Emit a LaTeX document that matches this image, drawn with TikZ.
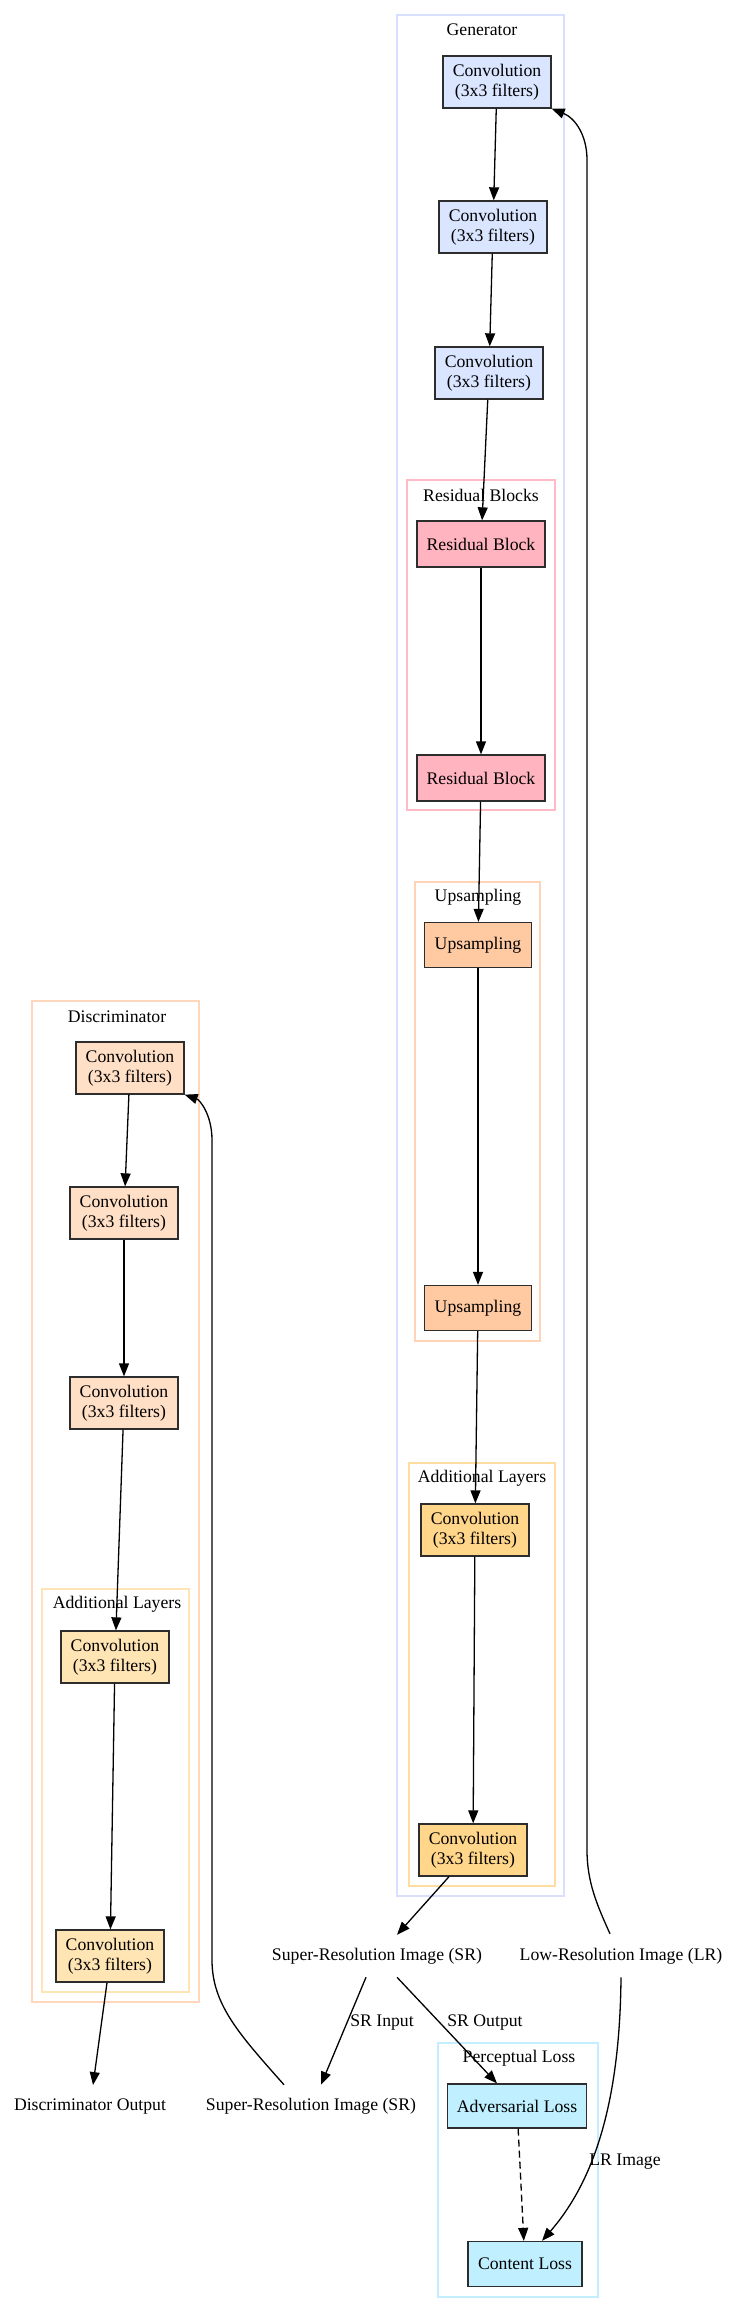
\documentclass[tikz,border=0pt]{standalone}
\usepackage{fontspec}
\setmainfont{Liberation Serif}
\usetikzlibrary{arrows.meta}
\definecolor{genborder}{RGB}{215,224,255}
\definecolor{gconvfill}{RGB}{218,230,255}
\definecolor{resborder}{RGB}{255,186,198}
\definecolor{resfill}{RGB}{255,180,192}
\definecolor{upborder}{RGB}{255,212,182}
\definecolor{upfill}{RGB}{255,202,162}
\definecolor{galborder}{RGB}{255,220,160}
\definecolor{galfill}{RGB}{255,214,138}
\definecolor{discborder}{RGB}{255,215,188}
\definecolor{dconvfill}{RGB}{255,223,197}
\definecolor{dalborder}{RGB}{255,228,182}
\definecolor{dalfill}{RGB}{255,229,180}
\definecolor{percborder}{RGB}{195,238,255}
\definecolor{percfill}{RGB}{192,240,255}
\definecolor{boxline}{RGB}{45,45,45}
\begin{document}
\begin{tikzpicture}[x=1bp,y=-1bp,
  font=\fontsize{17.7bp}{20bp}\selectfont,
  box/.style={draw=boxline,line width=1.3bp,inner sep=2bp,align=center},
  convbox/.style={box,minimum width=108bp,minimum height=52bp},
  clusterbox/.style={line width=1.2bp},
  plain/.style={inner sep=1bp},
  arr/.style={line width=1.3bp,-{Triangle[length=13bp,width=10bp]}}
]
\useasboundingbox (0,0) rectangle (738,2313);
\fill[white] (0,0) rectangle (738,2313);

% ---------- clusters ----------
\draw[clusterbox,genborder] (397,15) rectangle (564,1896);
\node[plain] (gentitle) at (482,30) {Generator};
\draw[clusterbox,resborder] (407,480) rectangle (555,810);
\node[plain] (restitle) at (481,495) {Residual Blocks};
\draw[clusterbox,upborder] (415,882) rectangle (540,1341);
\node[plain] (uptitle) at (478,897) {Upsampling};
\draw[clusterbox,galborder] (409,1463) rectangle (555,1886);
\node[plain] (galtitle) at (482,1478) {Additional Layers};

\draw[clusterbox,discborder] (32,1001) rectangle (199,2002);
\node[plain] (disctitle) at (117,1017) {Discriminator};
\draw[clusterbox,dalborder] (42,1589) rectangle (189,1992);
\node[plain] (daltitle) at (117,1604) {Additional Layers};

\draw[clusterbox,percborder] (438,2043) rectangle (598,2297);
\node[plain] (perctitle) at (519,2058) {Perceptual Loss};

% ---------- generator nodes ----------
\node[convbox,fill=gconvfill] (gc1) at (497,82) {Convolution\\(3x3 filters)};
\node[convbox,fill=gconvfill] (gc2) at (493,227) {Convolution\\(3x3 filters)};
\node[convbox,fill=gconvfill] (gc3) at (489,373) {Convolution\\(3x3 filters)};
\node[box,fill=resfill,minimum width=128bp,minimum height=46bp] (rb1) at (481,544) {Residual Block};
\node[box,fill=resfill,minimum width=128bp,minimum height=46bp] (rb2) at (481,778) {Residual Block};
\node[box,fill=upfill,minimum width=107bp,minimum height=45bp] (up1) at (478,945) {Upsampling};
\node[box,fill=upfill,minimum width=107bp,minimum height=45bp] (up2) at (478,1308) {Upsampling};
\node[convbox,fill=galfill] (ga1) at (475,1530) {Convolution\\(3x3 filters)};
\node[convbox,fill=galfill] (ga2) at (473,1850) {Convolution\\(3x3 filters)};

% ---------- discriminator nodes ----------
\node[convbox,fill=dconvfill] (dc1) at (130,1068) {Convolution\\(3x3 filters)};
\node[convbox,fill=dconvfill] (dc2) at (124,1213) {Convolution\\(3x3 filters)};
\node[convbox,fill=dconvfill] (dc3) at (124,1403) {Convolution\\(3x3 filters)};
\node[convbox,fill=dalfill] (da1) at (115,1657) {Convolution\\(3x3 filters)};
\node[convbox,fill=dalfill] (da2) at (110,1956) {Convolution\\(3x3 filters)};

% ---------- free text nodes ----------
\node[plain] (sr1) at (377,1956) {Super-Resolution Image (SR)};
\node[plain] (lr) at (621,1956) {Low-Resolution Image (LR)};
\node[plain] (sr2) at (311,2106) {Super-Resolution Image (SR)};
\node[plain] (dout) at (90,2106) {Discriminator Output};

% ---------- loss nodes ----------
\node[box,fill=percfill,minimum width=139bp,minimum height=44bp] (adv) at (517,2106) {Adversarial Loss};
\node[box,fill=percfill,minimum width=114bp,minimum height=45bp] (cont) at (525,2264) {Content Loss};

% ---------- edge labels ----------
\node[plain] (lblsrin) at (382,2022) {SR Input};
\node[plain] (lblsrout) at (485,2022) {SR Output};
\node[plain] (lbllr) at (625,2162) {LR Image};

% ---------- generator edges ----------
\draw[arr] (gc1) -- (gc2);
\draw[arr] (gc2) -- (gc3);
\draw[arr] (gc3) -- (rb1);
\draw[arr] (rb1) -- (rb2);
\draw[arr] (rb2) -- (up1);
\draw[arr] (up1) -- (up2);
\draw[arr] (up2) -- (ga1);
\draw[arr] (ga1) -- (ga2);
\draw[arr] ([xshift=-24bp]ga2.south) -- ([xshift=20bp,yshift=12bp]sr1.north);
\draw[arr] ([xshift=-11bp,yshift=13bp]lr.north) .. controls (597,1905) and (587,1882) .. (587,1850)
  -- (587,160) .. controls (587,135) and (575,118) .. (gc1.south east);

% ---------- discriminator edges ----------
\draw[arr] (dc1) -- (dc2);
\draw[arr] (dc2) -- (dc3);
\draw[arr] (dc3) -- (da1);
\draw[arr] (da1) -- (da2);
\draw[arr] ([xshift=-3bp]da2.south) -- ([xshift=3bp,yshift=12bp]dout.north);
\draw[arr] ([xshift=-27bp,yshift=12bp]sr2.north) .. controls (240,2035) and (212,2005) .. (212,1960)
  -- (212,1140) .. controls (212,1115) and (200,1100) .. (dc1.south east);

% ---------- loss edges ----------
\draw[arr] ([xshift=-11bp,yshift=-12bp]sr1.south) -- ([xshift=10bp,yshift=12bp]sr2.north);
\draw[arr] ([xshift=20bp,yshift=-12bp]sr1.south) -- ([xshift=-20bp]adv.north);
\draw[arr,dash pattern=on 7bp off 4bp] (adv) -- (cont);
\draw[arr] ([yshift=-12bp]lr.south) .. controls (620,2100) and (595,2180) .. ([xshift=17bp]cont.north);
\end{tikzpicture}
\end{document}
